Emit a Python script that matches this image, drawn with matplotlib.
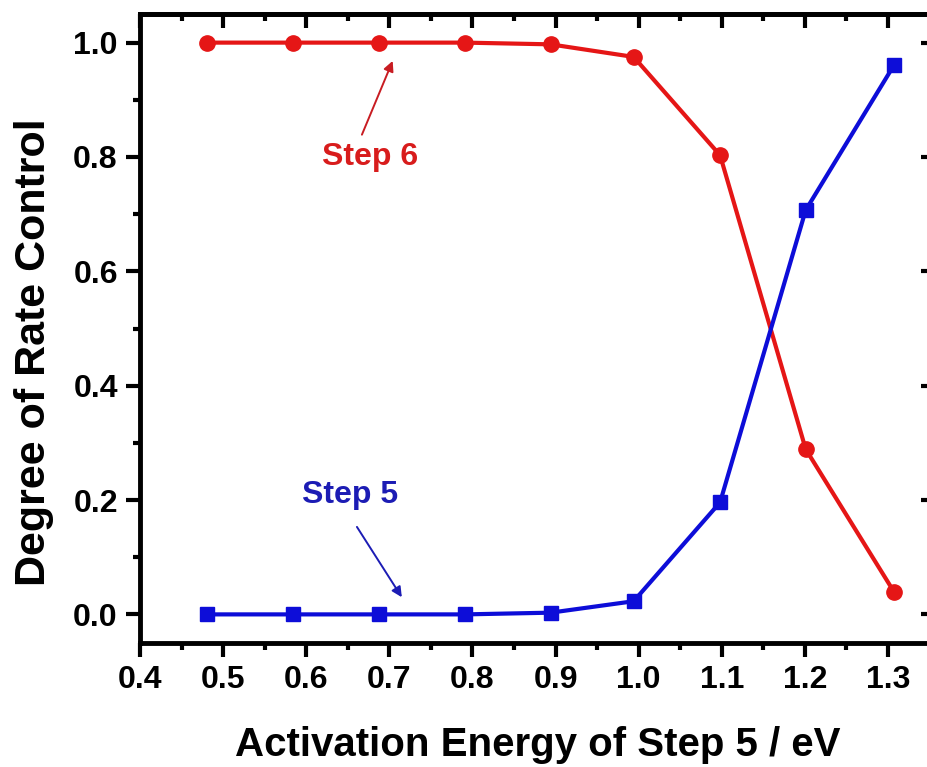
import matplotlib
matplotlib.use("Agg")
import matplotlib.pyplot as plt
from matplotlib.ticker import MultipleLocator, FormatStrFormatter

plt.rcParams["font.family"] = ["Liberation Sans", "DejaVu Sans"]
plt.rcParams["font.weight"] = "bold"

# activation energy of step 5 (eV) and degree of rate control
energy = [0.48, 0.584, 0.687, 0.791, 0.894, 0.994, 1.098, 1.201, 1.307]
step6 = [1.0, 1.0, 1.0, 1.0, 0.997, 0.975, 0.803, 0.289, 0.040]
step5 = [0.0, 0.0, 0.0, 0.0, 0.003, 0.023, 0.196, 0.707, 0.960]

red = "#e51616"
blue = "#0d0dd8"

fig = plt.figure(figsize=(9.28, 7.67), dpi=100)
ax = fig.add_axes([0.1509, 0.1617, 0.857, 0.820])

ax.plot(energy, step6, color=red, lw=3, marker="o", ms=11, zorder=3)
ax.plot(energy, step5, color=blue, lw=3, marker="s", ms=10, zorder=3)

ax.set_xlim(0.4, 1.357)
ax.set_ylim(-0.05, 1.05)

for axis, major, minor in [(ax.xaxis, 0.1, 0.05), (ax.yaxis, 0.2, 0.1)]:
    axis.set_major_locator(MultipleLocator(major))
    axis.set_minor_locator(MultipleLocator(minor))
    axis.set_major_formatter(FormatStrFormatter("%.1f"))

for side in ax.spines.values():
    side.set_linewidth(3.5)

ax.tick_params(which="both", direction="out", width=3, labelsize=23, pad=6)
ax.tick_params(which="major", length=10)
ax.tick_params(which="minor", length=5)

# mirrored ticks on top and right, pointing inward, no labels
top = ax.secondary_xaxis("top")
right = ax.secondary_yaxis("right")
top.xaxis.set_major_locator(MultipleLocator(0.1))
top.xaxis.set_minor_locator(MultipleLocator(0.05))
right.yaxis.set_major_locator(MultipleLocator(0.2))
right.yaxis.set_minor_locator(MultipleLocator(0.1))
for sec in (top, right):
    sec.tick_params(which="both", direction="in", width=3, labeltop=False, labelright=False)
    sec.tick_params(which="major", length=10)
    sec.tick_params(which="minor", length=5)
    for side in sec.spines.values():
        side.set_linewidth(3.5)

ax.set_xlabel("Activation Energy of Step 5 / eV", fontsize=29, fontweight="bold", labelpad=22)
ax.set_ylabel("Degree of Rate Control", fontsize=31, fontweight="bold")
ax.yaxis.set_label_coords(-0.108, 0.463)

ax.text(0.677, 0.80, "Step 6", color="#d81c1c", fontsize=23, fontweight="bold",
        ha="center", va="center")
ax.annotate("", xy=(0.704, 0.968), xytext=(0.667, 0.839),
            arrowprops=dict(arrowstyle="-|>", color="#c81c22", lw=1.4,
                            shrinkA=0, shrinkB=0, mutation_scale=15))
ax.text(0.653, 0.209, "Step 5", color="#1c1cb4", fontsize=23, fontweight="bold",
        ha="center", va="center")
ax.annotate("", xy=(0.715, 0.030), xytext=(0.661, 0.153),
            arrowprops=dict(arrowstyle="-|>", color="#1c1cb4", lw=1.4,
                            shrinkA=0, shrinkB=0, mutation_scale=15))

fig.savefig("out.png", dpi=100)
